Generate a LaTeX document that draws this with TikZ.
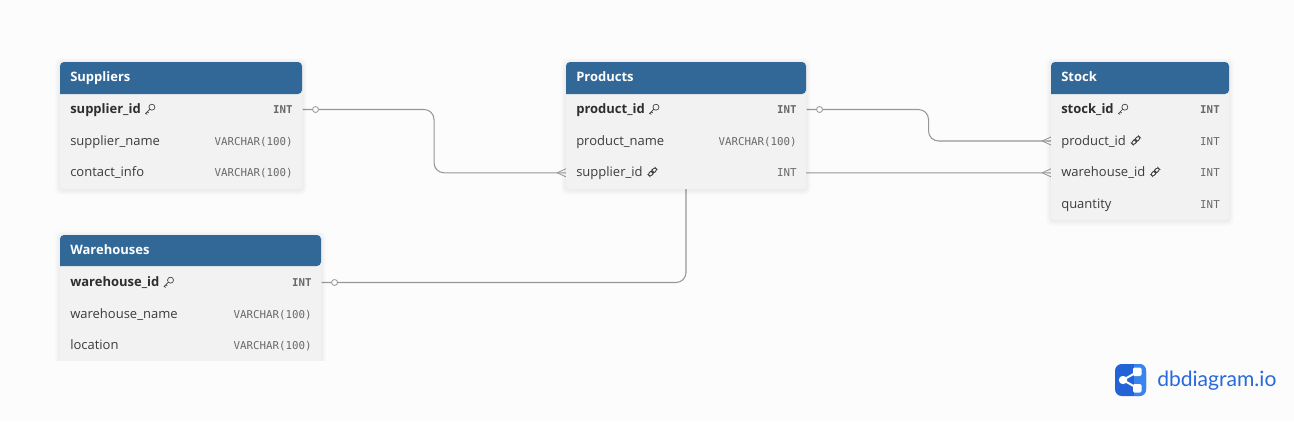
\documentclass[tikz,border=0pt]{standalone}
\usepackage{fontspec}
\setmainfont{Open Sans}
\setmonofont{DejaVu Sans Mono}
\newfontfamily\logofont{Lato}
\usepackage{tikz}

\definecolor{pagebg}{RGB}{252,252,252}
\definecolor{headblue}{RGB}{49,104,151}
\definecolor{bodygray}{RGB}{242,242,242}
\definecolor{fieldtxt}{RGB}{60,60,60}
\definecolor{typetxt}{RGB}{105,105,105}
\definecolor{relgray}{RGB}{150,150,156}
\definecolor{logodark}{RGB}{36,99,214}
\definecolor{logolight}{RGB}{58,132,238}

\newcommand{\softshadow}[4]{%
  \foreach \s in {1,2,3,4,5}
    \fill [black,opacity=0.011,rounded corners=4] (#1-\s,#2-\s+1) rectangle (#3+\s,#4+\s+1);}

\tikzset{
  rowcell/.style={inner sep=0pt,minimum height=15pt,anchor=west},
  tablebody/.style={fill=bodygray,rounded corners=3},
  tablehead/.style={fill=headblue,rounded corners=3},
  headtxt/.style={anchor=base west,inner sep=0pt,text=white,font=\fontsize{9.75}{12}\selectfont\bfseries},
  fieldname/.style={anchor=base west,inner sep=0pt,text=fieldtxt,font=\fontsize{9.75}{12}\selectfont},
  keyname/.style={fieldname,text=black!82,font=\fontsize{9.75}{12}\selectfont\bfseries},
  fieldtype/.style={anchor=base east,inner sep=0pt,text=typetxt,font=\fontsize{8.1}{12}\ttfamily},
  keytype/.style={fieldtype,font=\fontsize{8.1}{12}\ttfamily\bfseries},
  relline/.style={draw=relgray,line width=0.8pt,rounded corners=7.5},
  relmark/.style={draw=relgray,line width=0.6pt},
  onedot/.style={circle,draw=relgray,line width=0.6pt,fill=pagebg,inner sep=0pt,minimum size=4.5pt},
  keyicon/.pic={
    \draw [line width=0.5pt,fieldtxt] (1.8,1.8) circle (3);
    \draw [line width=0.5pt,fieldtxt] (-0.4,-0.4) -- (-4.6,-4.6) -- (-2.8,-5.4) (-3,-3) -- (-1.4,-3.8);
  },
  linkicon/.pic={
    \draw [line width=0.65pt,fieldtxt,rotate=45,rounded corners=1.5] (-5,-1.7) rectangle (0.6,1.7);
    \draw [line width=0.65pt,fieldtxt,rotate=45,rounded corners=1.5] (-0.6,-1.7) rectangle (5,1.7);
  },
}

\begin{document}
\begin{tikzpicture}[x=0.75pt,y=0.75pt,yscale=-1,xscale=1]

% Page
\fill [pagebg] (0,0) rectangle (1294,422);
\useasboundingbox (0,0) rectangle (1294,422);

% Row cells, connectors start and end on these
\foreach \rowname/\rowx/\rowy/\roww in {
  supplier_id/60/109.5/242, supplier_ref/566/172.8/240, product_id/566/109.5/240,
  product_ref/1051/141/178, warehouse_ref/1051/172.8/178, warehouse_id/60/282.5/261}
  \node [rowcell,minimum width=0.75pt*\roww] (\rowname) at (\rowx,\rowy) {};

% Connectors
\draw [relline] (supplier_id.east) -- ++(131.5,0) |- (supplier_ref.west);
\draw [relline] (product_id.east) -- ++(122,0) |- (product_ref.west);
\draw [relline] (warehouse_id.east) -| (686,172.8) -- (warehouse_ref.west);

% Connector ends
\node [onedot] (supplier_dot) at ([xshift=9.75pt]supplier_id.east) {};
\node [onedot] (product_dot) at ([xshift=9.75pt]product_id.east) {};
\node [onedot] (warehouse_dot) at ([xshift=9.75pt]warehouse_id.east) {};
\foreach \endname in {supplier_ref,product_ref,warehouse_ref}
  \draw [relmark] ([xshift=-6.75pt]\endname.west) -- ([yshift=-3pt]\endname.west) ([xshift=-6.75pt]\endname.west) -- ([yshift=3pt]\endname.west);

% Suppliers
\softshadow{60}{62}{302}{189}
\path [tablebody] (60,70) rectangle (302,189);
\path [tablehead] (60,94) -- (60,62) -- (302,62) -- (302,94) [sharp corners] -- cycle;
% Products
\softshadow{566}{62}{806}{189}
\path [tablebody] (566,70) rectangle (806,189);
\path [tablehead] (566,94) -- (566,62) -- (806,62) -- (806,94) [sharp corners] -- cycle;
% Stock
\softshadow{1051}{62}{1229}{220}
\path [tablebody] (1051,70) rectangle (1229,220);
\path [tablehead] (1051,94) -- (1051,62) -- (1229,62) -- (1229,94) [sharp corners] -- cycle;
% Warehouses, cut off at the bottom
\begin{scope}
\clip (40,225) rectangle (345,360);
\softshadow{60}{235}{321}{380}
\path [tablebody] (60,243) rectangle (321,380);
\path [tablehead] (60,266) -- (60,235) -- (321,235) -- (321,266) [sharp corners] -- cycle;
\end{scope}

% Text Node
\draw (70,81) node [headtxt] (suppliers) {Suppliers};
\draw (70,113.5) node [keyname] (supplier_id_name) {supplier\_id};
\draw (293,113) node [keytype] (supplier_id_type) {INT};
\draw (70,145) node [fieldname] (supplier_name) {supplier\_name};
\draw (293,145) node [fieldtype] (supplier_name_type) {VARCHAR(100)};
\draw (70,176.5) node [fieldname] (contact_info) {contact\_info};
\draw (293,176.5) node [fieldtype] (contact_info_type) {VARCHAR(100)};
% Text Node
\draw (576,81) node [headtxt] (products) {Products};
\draw (576,113.5) node [keyname] (product_id_name) {product\_id};
\draw (797,113) node [keytype] (product_id_type) {INT};
\draw (576,145) node [fieldname] (product_name) {product\_name};
\draw (797,145) node [fieldtype] (product_name_type) {VARCHAR(100)};
\draw (576,176.5) node [fieldname] (supplier_ref_name) {supplier\_id};
\draw (797,176.5) node [fieldtype] (supplier_ref_type) {INT};
% Text Node
\draw (1061,81) node [headtxt] (stock) {Stock};
\draw (1061,113.5) node [keyname] (stock_id_name) {stock\_id};
\draw (1220,113) node [keytype] (stock_id_type) {INT};
\draw (1061,145) node [fieldname] (product_ref_name) {product\_id};
\draw (1220,145) node [fieldtype] (product_ref_type) {INT};
\draw (1061,176.5) node [fieldname] (warehouse_ref_name) {warehouse\_id};
\draw (1220,176.5) node [fieldtype] (warehouse_ref_type) {INT};
\draw (1061,208) node [fieldname] (quantity) {quantity};
\draw (1220,208) node [fieldtype] (quantity_type) {INT};
% Text Node
\draw (70,254) node [headtxt] (warehouses) {Warehouses};
\draw (70,286.5) node [keyname] (warehouse_id_name) {warehouse\_id};
\draw (312,286) node [keytype] (warehouse_id_type) {INT};
\draw (70,318) node [fieldname] (warehouse_name) {warehouse\_name};
\draw (312,318) node [fieldtype] (warehouse_name_type) {VARCHAR(100)};
\draw (70,349) node [fieldname] (location) {location};
\draw (312,349) node [fieldtype] (location_type) {VARCHAR(100)};

% Key and link icons
\foreach \keyname in {supplier_id_name,product_id_name,stock_id_name,warehouse_id_name}
  \path ([xshift=6.8pt,yshift=-3.4pt]\keyname.base east) pic {keyicon};
\foreach \refname in {supplier_ref_name,product_ref_name,warehouse_ref_name}
  \path ([xshift=7.2pt,yshift=-3.4pt]\refname.base east) pic {linkicon};

% Logo
\fill [logodark,rounded corners=5] (1115,364) rectangle (1146,396);
\fill [logolight,rounded corners=5] (1130,364) rectangle (1146,396);
\fill [logodark] (1130,364) rectangle (1134,396);
\draw [white,line width=1.5pt] (1137,372) -- (1123,380) -- (1137,388);
\fill [white] (1123,380) circle (4.2);
\fill [white,rounded corners=1] (1133,367.5) rectangle (1141.5,376);
\fill [white,rounded corners=1] (1133,384) rectangle (1141.5,392.5);
\draw (1157,386.5) node [anchor=base west,inner sep=0pt,text=logodark!80!logolight,font=\logofont\fontsize{15.8}{18}\selectfont] (logotxt) {dbdiagram.io};

\end{tikzpicture}
\end{document}
